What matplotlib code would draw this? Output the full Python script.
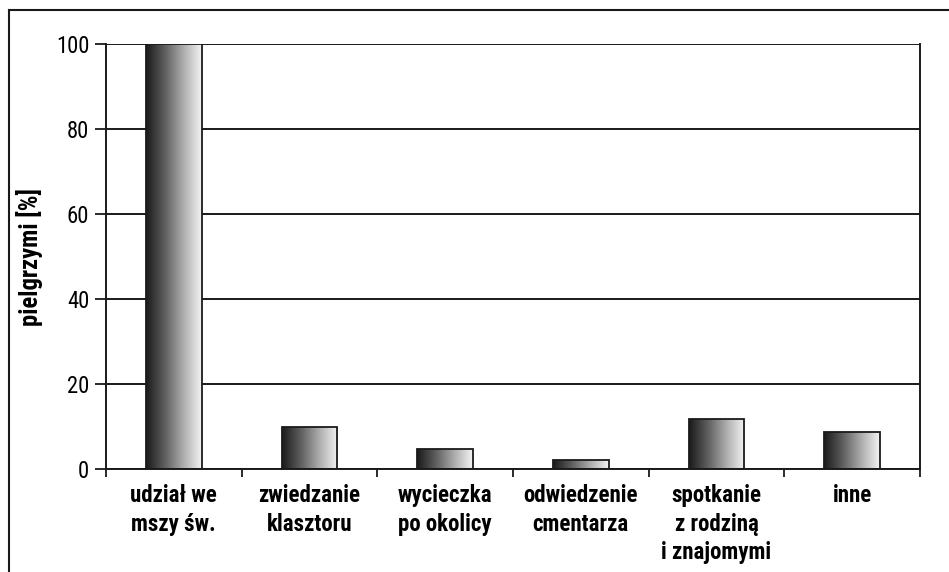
import matplotlib
matplotlib.use("Agg")
import matplotlib.pyplot as plt
import numpy as np
from matplotlib.colors import LinearSegmentedColormap
from matplotlib.lines import Line2D
from matplotlib import font_manager

categories = ["udział we\nmszy św.", "zwiedzanie\nklasztoru", "wycieczka\npo okolicy",
              "odwiedzenie\ncmentarza", "spotkanie\nz rodziną\ni znajomymi", "inne"]
values = [100, 10.0, 4.7, 2.1, 11.8, 8.7]
yticks = [0, 20, 40, 60, 80, 100]

# pick a condensed family that has a bold face
fams = {}
for f in font_manager.fontManager.ttflist:
    fams.setdefault(f.name, set()).add(f.weight if isinstance(f.weight, int) else 400)
cands = [n for n in sorted(fams) if ('Narrow' in n or 'Condensed' in n)
         and any(w >= 600 for w in fams[n]) and any(w in (400, 'normal') for w in fams[n])]
pref = ['Liberation Sans Narrow', 'Roboto Condensed', 'Open Sans Condensed', 'Arial Narrow']
chosen = None
for p in pref:
    if p in cands:
        chosen = p
        break
if chosen is None and cands:
    chosen = cands[0]
family = ([chosen] if chosen else []) + ['Liberation Sans', 'DejaVu Sans']
plt.rcParams['font.family'] = family

fig = plt.figure(figsize=(9.49, 5.72), dpi=100)
renderer = fig.canvas.get_renderer()


def fit_size(text, target_px, weight='normal'):
    t = fig.text(0, 0, text, fontsize=10, fontweight=weight)
    w = t.get_window_extent(renderer).width
    t.remove()
    return 10 * target_px / w

tick_fs = fit_size('100', 33)
cat_fs = fit_size('udział we', 87, 'bold')
ylab_fs = fit_size('pielgrzymi [%]', 138, 'bold')

ax = fig.add_axes([106/949, 1-469/572, (920-106)/949, (469-44)/572])

x = np.arange(len(categories))
bars = ax.bar(x, values, width=0.41, facecolor='none', edgecolor='#1a1a1a', linewidth=1.3, zorder=3)

cmap = LinearSegmentedColormap.from_list('g', ['#1a1a1a', '#5e5e5e', '#acacac', '#f4f4f4'])
grad = np.linspace(0, 1, 256).reshape(1, -1)
for b in bars:
    x0, y0 = b.get_x(), b.get_y()
    w, h = b.get_width(), b.get_height()
    im = ax.imshow(grad, cmap=cmap, aspect='auto', extent=[x0, x0 + w, y0, y0 + h],
                   zorder=2, interpolation='bilinear')
    im.set_clip_path(b)

ax.set_xlim(-0.5, len(categories) - 0.5)
ax.set_ylim(0, 100)
ax.set_yticks(yticks)
ax.set_yticklabels([str(t) for t in yticks], fontsize=tick_fs)
ax.yaxis.grid(True, color='#1a1a1a', linewidth=1.4, zorder=1)
ax.set_axisbelow(True)

ax.set_xticks(np.arange(len(categories) + 1) - 0.5)
ax.set_xticklabels([])
ax.set_xticks(x, minor=True)
ax.set_xticklabels(categories, minor=True, fontsize=cat_fs, fontweight='bold',
                   linespacing=1.3, va='top')
ax.tick_params(axis='x', which='minor', length=0, pad=11)
ax.tick_params(axis='x', which='major', length=6, width=1.3, color='#1a1a1a', direction='out')
ax.tick_params(axis='y', length=8, width=1.3, color='#1a1a1a', direction='out', pad=4)

for s in ['left', 'right', 'bottom']:
    ax.spines[s].set_color('#1a1a1a')
    ax.spines[s].set_linewidth(1.4)
ax.spines['top'].set_visible(False)

ax.set_ylabel('pielgrzymi [%]', fontsize=ylab_fs, fontweight='bold')
ax.yaxis.set_label_coords((43-106)/814, 0.5)

fig.add_artist(Line2D([9/949, 9/949], [0, 1-10/572], transform=fig.transFigure, color='#1a1a1a', lw=1.5))
fig.add_artist(Line2D([9/949, 1], [1-10/572, 1-10/572], transform=fig.transFigure, color='#1a1a1a', lw=1.5))

fig.savefig('out.png', dpi=100)
